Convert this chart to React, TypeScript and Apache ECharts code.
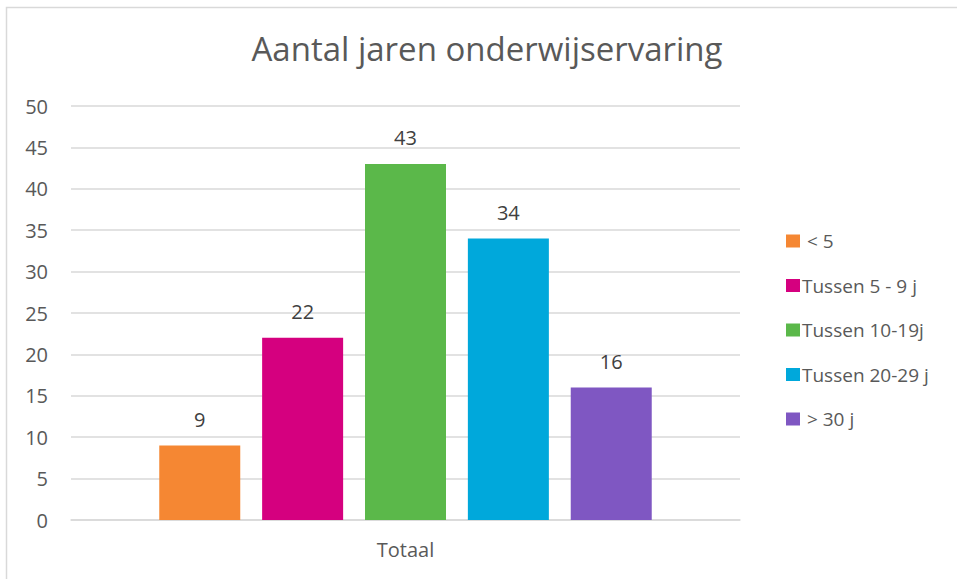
import React, { useEffect, useRef } from "react";
import * as echarts from "echarts";

const categories = ["Totaal"];
const seriesNames = ["< 5", "Tussen 5 - 9 j", "Tussen 10-19j", "Tussen 20-29 j", "> 30 j"];
const seriesValues = [[9], [22], [43], [34], [16]];
const seriesColors = ["#F58733", "#D5007F", "#5BB84A", "#00A8DB", "#7F57C2"];
const title = "Aantal jaren onderwijservaring";

const FONT = "'Open Sans', Lato, sans-serif";

export default function App() {
  const ref = useRef<HTMLDivElement>(null);
  useEffect(() => {
    document.body.style.margin = "0";
    const chart = echarts.init(ref.current!, null, { renderer: "svg" });
    chart.setOption({
      animation: false,
      backgroundColor: "#ffffff",
      textStyle: { fontFamily: FONT },
      title: {
        text: title,
        left: 482,
        textAlign: "center",
        top: 27,
        textStyle: { fontFamily: FONT, fontSize: 33, fontWeight: "normal", color: "#595959" },
      },
      graphic: [
        {
          type: "rect",
          shape: { x: 6.5, y: 7.5, width: 1200, height: 1200 },
          style: { fill: "none", stroke: "#d9d9d9", lineWidth: 1.5 },
          silent: true,
        },
      ],
      legend: {
        orient: "vertical",
        left: 781,
        top: 225,
        itemWidth: 14,
        itemHeight: 13,
        itemGap: 22.5,
        icon: "rect",
        formatter: (n: string) => (n.startsWith("<") || n.startsWith(">") ? " " + n : n),
        textStyle: { fontFamily: FONT, fontSize: 19, color: "#595959", lineHeight: 22, padding: [0, 0, 0, -3] },
        data: seriesNames,
      },
      grid: { left: 71, right: 217, top: 106, bottom: 59, containLabel: false },
      xAxis: {
        type: "category",
        data: categories,
        axisLine: { lineStyle: { color: "#d9d9d9", width: 1.5 } },
        axisTick: { show: false },
        axisLabel: { fontFamily: FONT, fontSize: 20, color: "#595959", margin: 19 },
      },
      yAxis: {
        type: "value",
        min: 0,
        max: 50,
        interval: 5,
        axisLine: { show: false },
        axisTick: { show: false },
        splitLine: { lineStyle: { color: "#d9d9d9", width: 1.5 } },
        axisLabel: { fontFamily: FONT, fontSize: 20, color: "#595959", margin: 23 },
      },
      series: seriesNames.map((name, i) => ({
        name,
        type: "bar",
        data: seriesValues[i],
        barWidth: 81,
        barGap: "27%",
        itemStyle: { color: seriesColors[i] },
        label: {
          show: true,
          position: "top",
          distance: 16,
          fontFamily: FONT,
          fontSize: 20,
          color: "#404040",
        },
      })),
    });
    return () => chart.dispose();
  }, []);
  return <div ref={ref} style={{ width: 957, height: 579, position: "absolute", left: 0, top: 0 }} />;
}
